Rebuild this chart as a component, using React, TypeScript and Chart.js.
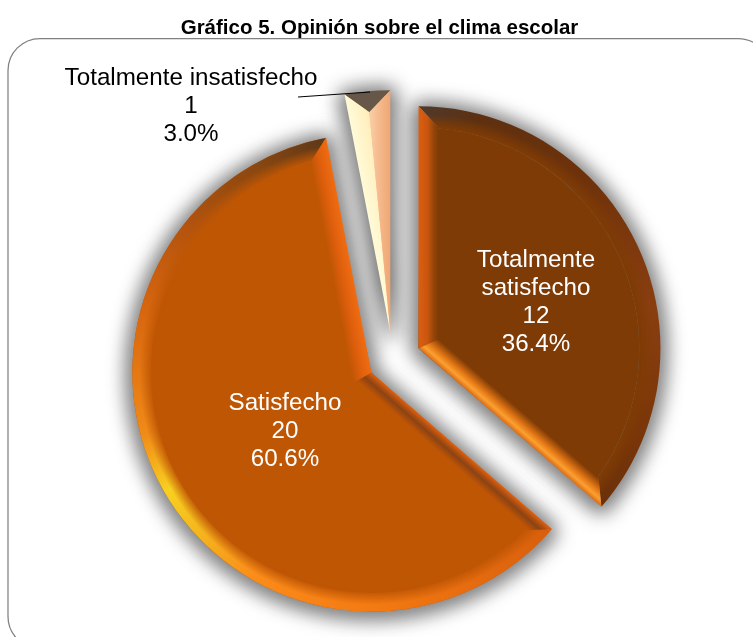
import React, { useEffect, useRef } from "react";
import { Chart, registerables } from "chart.js";

Chart.register(...registerables);

const titleText = "Gráfico 5. Opinión sobre el clima escolar";
const categories = ["Totalmente satisfecho", "Satisfecho", "Totalmente insatisfecho"];
const labelLines = [["Totalmente", "satisfecho"], ["Satisfecho"], ["Totalmente insatisfecho"]];
const values = [12, 20, 1];
const fillColors = ["#7f3b05", "#bf5604", "#f2c090"];
const labelColors = ["#ffffff", "#ffffff", "#000000"];

const LABEL_POS = [[536, 260], [285, 403], [191, 78]];
const OFFSETS = [112, 100, 112];
const RADIUS = 214;

type Bevel = {
  w: number;
  rim: [number, string][];
  startEdge: [number, string][];
  endEdge: [number, string][];
};
const bevels: Bevel[] = [
  {
    w: 20,
    rim: [[0, "#4e3a2c"], [15, "#5e3010"], [45, "#6f320a"], [80, "#8a3e10"], [110, "#7a3608"], [131, "#6a300a"], [360, "#6a300a"]],
    startEdge: [[0, "#dd5e10"], [0.45, "#c9560e"], [0.75, "#96460a"], [1, "#7f3b05"]],
    endEdge: [[0, "#d96c18"], [0.25, "#fca030"], [0.55, "#e07414"], [1, "#7f3b05"]],
  },
  {
    w: 20,
    rim: [[131, "#d85e0c"], [180, "#f47a12"], [210, "#fb8c1a"], [228, "#f4b81e"], [240, "#f8d020"], [255, "#f08a18"], [285, "#d8660e"], [310, "#b0520e"], [330, "#8c4810"], [349, "#5e3818"]],
    startEdge: [[0, "#e0620f"], [0.22, "#b04e10"], [0.4, "#8a4414"], [0.65, "#b04e0a"], [0.8, "#bf5604"], [1, "#bf5604"]],
    endEdge: [[0, "#f06c12"], [0.55, "#dd5e0c"], [1, "#bf5604"]],
  },
  {
    w: 21,
    rim: [[0, "#665748"], [360, "#665748"]],
    startEdge: [[0, "#fffbd8"], [0.8, "#fff0c0"], [1, "#fde8b8"]],
    endEdge: [[0, "#f0a674"], [0.6, "#f6bc90"], [1, "#fbd0a8"]],
  },
];

function sliceGeometry(arc: any) {
  const { x, y, startAngle, endAngle, outerRadius } = arc.getProps(["x", "y", "startAngle", "endAngle", "outerRadius"]);
  const mid = (startAngle + endAngle) / 2;
  const off = (arc.options.offset || 0) / 4;
  return { ax: x + Math.cos(mid) * off, ay: y + Math.sin(mid) * off, s: startAngle, e: endAngle, R: outerRadius + off, mid };
}

const framePlugin = {
  id: "frame",
  beforeDraw(chart: any) {
    const ctx = chart.ctx;
    ctx.save();
    ctx.fillStyle = "#ffffff";
    ctx.fillRect(0, 0, chart.width, chart.height);
    ctx.strokeStyle = "#808080";
    ctx.lineWidth = 1.25;
    ctx.beginPath();
    ctx.roundRect(8, 38.5, 762, 610, 32);
    ctx.stroke();
    ctx.fillStyle = "#000000";
    ctx.font = "bold 20.5px 'Liberation Sans'";
    ctx.textAlign = "center";
    ctx.textBaseline = "middle";
    ctx.fillText(titleText, 379.5, 28);
    ctx.restore();
  },
  beforeDatasetsDraw(chart: any) {
    const ctx = chart.ctx;
    const arcs = chart.getDatasetMeta(0).data;
    arcs.forEach((arc: any) => {
      const g = sliceGeometry(arc);
      ctx.save();
      ctx.filter = "blur(10px)";
      ctx.fillStyle = "rgba(40,40,40,0.62)";
      ctx.strokeStyle = "rgba(40,40,40,0.62)";
      ctx.lineWidth = 10;
      ctx.lineJoin = "round";
      ctx.beginPath();
      ctx.moveTo(g.ax, g.ay + 2);
      ctx.arc(g.ax, g.ay + 2, g.R, g.s, g.e);
      ctx.closePath();
      ctx.fill();
      ctx.stroke();
      ctx.restore();
    });
  },
  afterDatasetsDraw(chart: any) {
    const ctx = chart.ctx;
    const arcs = chart.getDatasetMeta(0).data;
    arcs.forEach((arc: any, i: number) => {
      const { ax, ay, s, e, R, mid } = sliceGeometry(arc);
      const b = bevels[i];
      const half = (e - s) / 2;
      const inner = R - b.w;
      const dA = Math.asin(Math.min(1, b.w / inner));
      const ix = ax + Math.cos(mid) * (b.w / Math.sin(half));
      const iy = ay + Math.sin(mid) * (b.w / Math.sin(half));
      const s2 = Math.min(s + dA, mid);
      const e2 = Math.max(e - dA, mid);
      const pt = (a: number, r: number) => [ax + Math.cos(a) * r, ay + Math.sin(a) * r];

      // rim
      ctx.save();
      const conic = ctx.createConicGradient(-Math.PI / 2, ax, ay);
      b.rim.forEach(([deg, c]) => conic.addColorStop(deg / 360, c));
      ctx.beginPath();
      ctx.arc(ax, ay, R, s, e);
      ctx.lineTo(...(pt(e2, inner) as [number, number]));
      ctx.arc(ax, ay, inner, e2, s2, true);
      ctx.closePath();
      ctx.fillStyle = conic;
      ctx.fill();
      if (i < 2) {
        const fade = ctx.createRadialGradient(ax, ay, inner, ax, ay, R);
        const rgb = parseInt(fillColors[i].slice(1), 16);
        const base = `${(rgb >> 16) & 255},${(rgb >> 8) & 255},${rgb & 255}`;
        fade.addColorStop(0, `rgba(${base},1)`);
        fade.addColorStop(0.65, `rgba(${base},0)`);
        fade.addColorStop(1, `rgba(${base},0)`);
        ctx.fillStyle = fade;
        ctx.fill();
        ctx.strokeStyle = fillColors[i];
        ctx.lineWidth = 2.5;
        ctx.beginPath();
        ctx.arc(ax, ay, inner, s2, e2);
        ctx.stroke();
      }
      ctx.restore();

      // straight edges
      const edge = (a: number, a2: number, stops: [number, string][], sign: number) => {
        const [ox, oy] = pt(a, R / 2);
        const nx = Math.cos(a + (sign * Math.PI) / 2);
        const ny = Math.sin(a + (sign * Math.PI) / 2);
        const grad = ctx.createLinearGradient(ox, oy, ox + nx * b.w, oy + ny * b.w);
        stops.forEach(([t, c]) => grad.addColorStop(t, c));
        const p = pt(a, R);
        const q = pt(a2, inner);
        ctx.save();
        ctx.fillStyle = grad;
        ctx.beginPath();
        ctx.moveTo(ax, ay);
        ctx.lineTo(p[0], p[1]);
        ctx.lineTo(q[0], q[1]);
        ctx.lineTo(ix, iy);
        ctx.closePath();
        ctx.fill();
        ctx.restore();
      };
      edge(s, s2, b.startEdge, 1);
      edge(e, e2, b.endEdge, -1);
    });

    // labels
    ctx.save();
    ctx.textAlign = "center";
    ctx.textBaseline = "middle";
    ctx.font = "24.2px 'Liberation Sans'";
    const total = values.reduce((a, v) => a + v, 0);
    values.forEach((v, i) => {
      const lines = [...labelLines[i], String(v), ((v / total) * 100).toFixed(1) + "%"];
      ctx.fillStyle = labelColors[i];
      lines.forEach((t, k) => ctx.fillText(t, LABEL_POS[i][0], LABEL_POS[i][1] + k * 28.2));
    });
    ctx.strokeStyle = "#000000";
    ctx.lineWidth = 1;
    ctx.beginPath();
    ctx.moveTo(298, 97);
    ctx.lineTo(370, 92);
    ctx.stroke();
    ctx.restore();
  },
};

export default function App() {
  const ref = useRef<HTMLCanvasElement>(null);
  useEffect(() => {
    const chart = new Chart(ref.current!, {
      type: "pie",
      data: {
        labels: categories,
        datasets: [{ data: values, backgroundColor: fillColors, borderWidth: 0, offset: OFFSETS, hoverOffset: 0 }],
      },
      options: {
        animation: false,
        responsive: false,
        radius: RADIUS,
        layout: { padding: { left: 33, right: 0, top: 83, bottom: 0 } },
        plugins: { legend: { display: false }, tooltip: { enabled: false }, title: { display: false } },
      } as any,
      plugins: [framePlugin],
    });
    return () => chart.destroy();
  }, []);
  return (
    <div style={{ position: "fixed", left: 0, top: 0, width: 753, height: 637 }}>
      <canvas ref={ref} width={753} height={637} style={{ display: "block" }} />
    </div>
  );
}
